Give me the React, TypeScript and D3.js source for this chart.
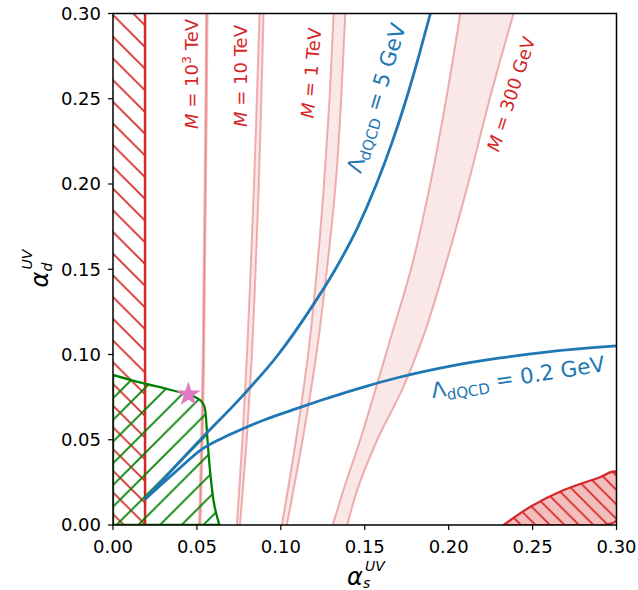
import React from 'react';
import * as d3 from 'd3';

// axis ticks
const xTicks = [0, 0.05, 0.1, 0.15, 0.2, 0.25, 0.3];
const yTicks = [0, 0.05, 0.1, 0.15, 0.2, 0.25, 0.3];

// M bands (lower / upper edge in alpha_s at given alpha_d)
const bandLevels = [0, 0.05, 0.1, 0.15, 0.2, 0.25, 0.3];
const band1000TeVLo = [0.0513, 0.0526, 0.0535, 0.054, 0.0546, 0.0551, 0.0555];
const band1000TeVHi = [0.0521, 0.0534, 0.0543, 0.0548, 0.0554, 0.0559, 0.0563];
const band10TeVLo = [0.0738, 0.0771, 0.0798, 0.082, 0.084, 0.0857, 0.0873];
const band10TeVHi = [0.0757, 0.0797, 0.0828, 0.085, 0.0869, 0.0884, 0.0897];
const band1TeVLo = [0.1006, 0.109, 0.1162, 0.1215, 0.1257, 0.129, 0.1314];
const band1TeVHi = [0.1036, 0.113, 0.1212, 0.1275, 0.1327, 0.136, 0.1384];
const band300Levels = [0, 0.02, 0.05, 0.08, 0.11, 0.15, 0.2, 0.25, 0.3];
const band300GeVLo = [0.1309, 0.1371, 0.1473, 0.1565, 0.1655, 0.1775, 0.189, 0.1985, 0.2069];
const band300GeVHi = [0.1396, 0.1454, 0.1575, 0.1726, 0.1847, 0.1974, 0.2116, 0.2245, 0.2387];

// Lambda_dQCD curves
const lambda5X = [0.0191, 0.052, 0.0765, 0.0985, 0.1165, 0.1325, 0.146, 0.157, 0.1665, 0.1748, 0.1822, 0.1891];
const lambda5Y = [0.0151, 0.05, 0.075, 0.1, 0.125, 0.15, 0.175, 0.2, 0.225, 0.25, 0.275, 0.3];
const lambda02X = [0.0191, 0.03, 0.04, 0.052, 0.07, 0.09, 0.1115, 0.1235, 0.1513, 0.1712, 0.201, 0.2308, 0.2606, 0.3];
const lambda02Y = [0.0151, 0.0248, 0.0336, 0.0438, 0.0532, 0.0616, 0.069, 0.073, 0.0815, 0.0868, 0.0932, 0.098, 0.1017, 0.105];

// green allowed region (top / right boundary)
const greenX = [0, 0.016, 0.032, 0.045, 0.05, 0.053, 0.0546, 0.0552, 0.0563, 0.058, 0.0603, 0.0634];
const greenY = [0.088, 0.0836, 0.0798, 0.0765, 0.0745, 0.0722, 0.069, 0.065, 0.05, 0.03, 0.012, 0];

// excluded regions
const leftExclX = 0.0191;
const redUpperX = [0.2328, 0.2487, 0.2686, 0.2885, 0.3];
const redUpperY = [0, 0.0107, 0.0205, 0.0274, 0.031];
const redLowerX = [0.3, 0.285];
const redLowerY = [0.0025, 0];

const starPoint = [0.0449, 0.0765];

const RED = '#d62728';
const BLUE = '#1f77b4';
const GREEN = '#008000';
const FONT = 'DejaVu Sans, sans-serif';

export default function App() {
  const width = 638, height = 590;
  const x = d3.scaleLinear().domain([0, 0.3]).range([113, 616.5]);
  const y = d3.scaleLinear().domain([0, 0.3]).range([525, 13.5]);

  const edge = d3.line<[number, number]>().x(d => x(d[0])).y(d => y(d[1])).curve(d3.curveCatmullRom);

  const band = (levels: number[], lo: number[], hi: number[], key: string) => {
    const area = d3.area<number>()
      .y((lv) => y(lv))
      .x0((_, i) => x(lo[i]))
      .x1((_, i) => x(hi[i]))
      .curve(d3.curveMonotoneY);
    const loLine = d3.line<number>().x((_, i) => x(lo[i])).y(lv => y(lv)).curve(d3.curveMonotoneY);
    const hiLine = d3.line<number>().x((_, i) => x(hi[i])).y(lv => y(lv)).curve(d3.curveMonotoneY);
    return (
      <g key={key}>
        <path d={area(levels) || ''} fill={RED} fillOpacity={0.11} stroke="none" />
        <path d={loLine(levels) || ''} fill="none" stroke={RED} strokeOpacity={0.35} strokeWidth={2} />
        <path d={hiLine(levels) || ''} fill="none" stroke={RED} strokeOpacity={0.35} strokeWidth={2} />
      </g>
    );
  };

  const l5 = d3.line<number>().x(d => x(d)).y((_, i) => y(lambda5Y[i])).curve(d3.curveMonotoneX)(lambda5X) || '';
  const l02 = d3.line<number>().x(d => x(d)).y((_, i) => y(lambda02Y[i])).curve(d3.curveMonotoneX)(lambda02X) || '';

  const greenPts: [number, number][] = greenX.map((v, i) => [v, greenY[i]]);
  const greenPath = (edge(greenPts) || '') + `L${x(0)},${y(0)}Z`;

  const redPts: [number, number][] = [
    ...redUpperX.map((v, i) => [v, redUpperY[i]] as [number, number]),
    ...redLowerX.map((v, i) => [v, redLowerY[i]] as [number, number]),
  ];
  const redPath = (edge(redPts) || '') + 'Z';

  const star = d3.symbol().type(d3.symbolStar).size(190)() || '';

  const s = 21.7;
  const s2 = 14.5;

  return (
    <svg width={width} height={height} style={{ position: 'absolute', left: 0, top: 0, background: '#fff' }}
      fontFamily={FONT}>
      <defs>
        <clipPath id="plotclip">
          <rect x={x(0)} y={y(0.3)} width={x(0.3) - x(0)} height={y(0) - y(0.3)} />
        </clipPath>
        <pattern id="hatchRed" patternUnits="userSpaceOnUse" width={s} height={s} x={0} y={10.5}>
          <path d={`M0,0L${s},${s}M${-s / 2},${s / 2}L${s / 2},${1.5 * s}M${s / 2},${-s / 2}L${1.5 * s},${s / 2}`}
            stroke={RED} strokeWidth={1.7} />
        </pattern>
        <pattern id="hatchRed2" patternUnits="userSpaceOnUse" width={s2} height={s2} x={0} y={4}>
          <path d={`M0,0L${s2},${s2}M${-s2 / 2},${s2 / 2}L${s2 / 2},${1.5 * s2}M${s2 / 2},${-s2 / 2}L${1.5 * s2},${s2 / 2}`}
            stroke={RED} strokeWidth={1.7} />
        </pattern>
        <pattern id="hatchGreen" patternUnits="userSpaceOnUse" width={s} height={s} x={0} y={12.2}>
          <path d={`M0,${s}L${s},0M${-s / 2},${s / 2}L${s / 2},${-s / 2}M${s / 2},${1.5 * s}L${1.5 * s},${s / 2}`}
            stroke={GREEN} strokeWidth={1.8} />
        </pattern>
      </defs>

      <g clipPath="url(#plotclip)">
        {/* left excluded strip */}
        <rect x={x(0)} y={y(0.3)} width={x(leftExclX) - x(0)} height={y(0) - y(0.3)} fill="url(#hatchRed)" />
        <line x1={x(leftExclX)} x2={x(leftExclX)} y1={y(0)} y2={y(0.3)} stroke={RED} strokeWidth={2.5} />

        {/* M bands */}
        {band(bandLevels, band1000TeVLo, band1000TeVHi, 'b1000')}
        {band(bandLevels, band10TeVLo, band10TeVHi, 'b10')}
        {band(bandLevels, band1TeVLo, band1TeVHi, 'b1')}
        {band(band300Levels, band300GeVLo, band300GeVHi, 'b300')}

        {/* bottom-right excluded */}
        <path d={redPath} fill={RED} fillOpacity={0.3} stroke="none" />
        <path d={redPath} fill="url(#hatchRed2)" stroke={RED} strokeWidth={2.2} />

        {/* green region */}
        <path d={greenPath} fill="url(#hatchGreen)" stroke={GREEN} strokeWidth={2.3} />

        {/* Lambda curves */}
        <path d={l5} fill="none" stroke={BLUE} strokeWidth={2.8} />
        <path d={l02} fill="none" stroke={BLUE} strokeWidth={2.8} />

        <path d={star} transform={`translate(${x(starPoint[0])},${y(starPoint[1])})`} fill="#e377c2" />
      </g>

      {/* labels in plot */}
      <g fill={RED} fontSize={18}>
        <text transform="translate(191.5,74) rotate(-90)" textAnchor="middle" dy="0.36em">
          <tspan fontStyle="italic">M</tspan> = 10<tspan fontSize={12.6} dy={-7}>3</tspan><tspan dy={7}> TeV</tspan>
        </text>
        <text transform="translate(241,76) rotate(-90)" textAnchor="middle" dy="0.36em">
          <tspan fontStyle="italic">M</tspan> = 10 TeV
        </text>
        <text transform="translate(311,73) rotate(-85)" textAnchor="middle" dy="0.36em">
          <tspan fontStyle="italic">M</tspan> = 1 TeV
        </text>
        <text transform="translate(511,94) rotate(-72)" textAnchor="middle" dy="0.36em">
          <tspan fontStyle="italic">M</tspan> = 300 GeV
        </text>
      </g>
      <g fill={BLUE} fontSize={21.5}>
        <text transform="translate(376,98) rotate(-73)" textAnchor="middle" dy="0.36em">
          Λ<tspan fontSize={15} dy={4}>dQCD</tspan><tspan dy={-4}> = 5 GeV</tspan>
        </text>
        <text transform="translate(518,377) rotate(-9)" textAnchor="middle" dy="0.36em">
          Λ<tspan fontSize={15} dy={4}>dQCD</tspan><tspan dy={-4}> = 0.2 GeV</tspan>
        </text>
      </g>

      {/* frame */}
      <rect x={x(0)} y={y(0.3)} width={x(0.3) - x(0)} height={y(0) - y(0.3)} fill="none" stroke="#000" strokeWidth={1.5} />

      {/* axes ticks */}
      <g fontSize={18} fill="#000">
        {xTicks.map(t => (
          <g key={'x' + t}>
            <line x1={x(t)} x2={x(t)} y1={y(0)} y2={y(0) + 5} stroke="#000" strokeWidth={1.2} />
            <text x={x(t)} y={553} textAnchor="middle">{t.toFixed(2)}</text>
          </g>
        ))}
        {yTicks.map(t => (
          <g key={'y' + t}>
            <line x1={x(0) - 5} x2={x(0)} y1={y(t)} y2={y(t)} stroke="#000" strokeWidth={1.2} />
            <text x={101} y={y(t)} dy="0.36em" textAnchor="end">{t.toFixed(2)}</text>
          </g>
        ))}
      </g>

      {/* axis labels */}
      <g fill="#000" fontStyle="italic">
        <text x={347} y={585} fontSize={24}>α</text>
        <text x={365} y={571} fontSize={14}>UV</text>
        <text x={363} y={588} fontSize={14}>s</text>
        <g transform="translate(48,269.5) rotate(-90)">
          <text x={-18} y={0} fontSize={24}>α</text>
          <text x={0} y={-16} fontSize={14}>UV</text>
          <text x={-2} y={4} fontSize={14}>d</text>
        </g>
      </g>
    </svg>
  );
}
